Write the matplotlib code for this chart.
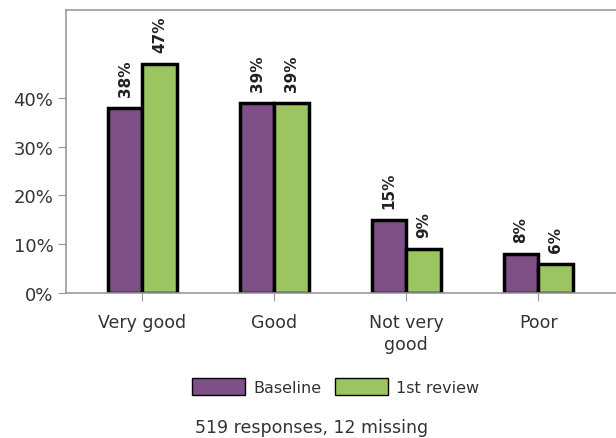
import numpy as np
import matplotlib
matplotlib.use("Agg")
import matplotlib.pyplot as plt
from matplotlib.patches import Patch

plt.rcParams['font.family'] = ['DejaVu Sans']

# Datos
categorias = ["Very good", "Good", "Not very\ngood", "Poor"]
baseline = [38, 39, 15, 8]
primera_revision = [47, 39, 9, 6]
series = ["Baseline", "1st review"]
colores = ["#7f4f88", "#9cc562"]
nota = "519 responses, 12 missing"

fig = plt.figure(figsize=(6.16, 4.39), dpi=100)
ax = fig.add_axes([0.107, 0.330, 0.895, 0.645])

x = np.arange(len(categorias))
ancho = 0.262

for i, (valores, color) in enumerate(zip([baseline, primera_revision], colores)):
    pos = x + (i - 0.5) * ancho
    ax.bar(pos, valores, ancho, color=color, edgecolor="black", linewidth=2.5)
    for p, v in zip(pos, valores):
        ax.text(p, v + 2.4, f"{v}%", rotation=90, ha="center", va="bottom",
                fontsize=11, fontweight="bold", color="#222222")

ax.set_xlim(-0.58, 3.6)
ax.set_ylim(0, 58)
ax.set_yticks([0, 10, 20, 30, 40])
ax.set_yticklabels([f"{t}%" for t in [0, 10, 20, 30, 40]], fontsize=13)
ax.set_xticks(x)
ax.set_xticklabels(categorias, fontsize=12.5, linespacing=1.35)
ax.tick_params(axis="both", colors="#999999", labelcolor="#333333", length=6)
ax.tick_params(axis="x", pad=8)
ax.tick_params(axis="y", pad=3)

for lado in ["left", "top", "bottom", "right"]:
    ax.spines[lado].set_color("#999999")
    ax.spines[lado].set_linewidth(1.2)

handles = [Patch(facecolor=c, edgecolor="black", linewidth=1, label=s) for s, c in zip(series, colores)]
fig.legend(handles=handles, loc="center", bbox_to_anchor=(0.545, 0.118), ncol=2, frameon=False,
           fontsize=11.5, handlelength=3.3, handleheight=1.25, handletextpad=0.5, columnspacing=0.9,
           labelcolor="#333333")

fig.text(0.505, 0.025, nota, ha="center", va="center", fontsize=12.5, color="#333333")

plt.savefig("out.png", dpi=100)
